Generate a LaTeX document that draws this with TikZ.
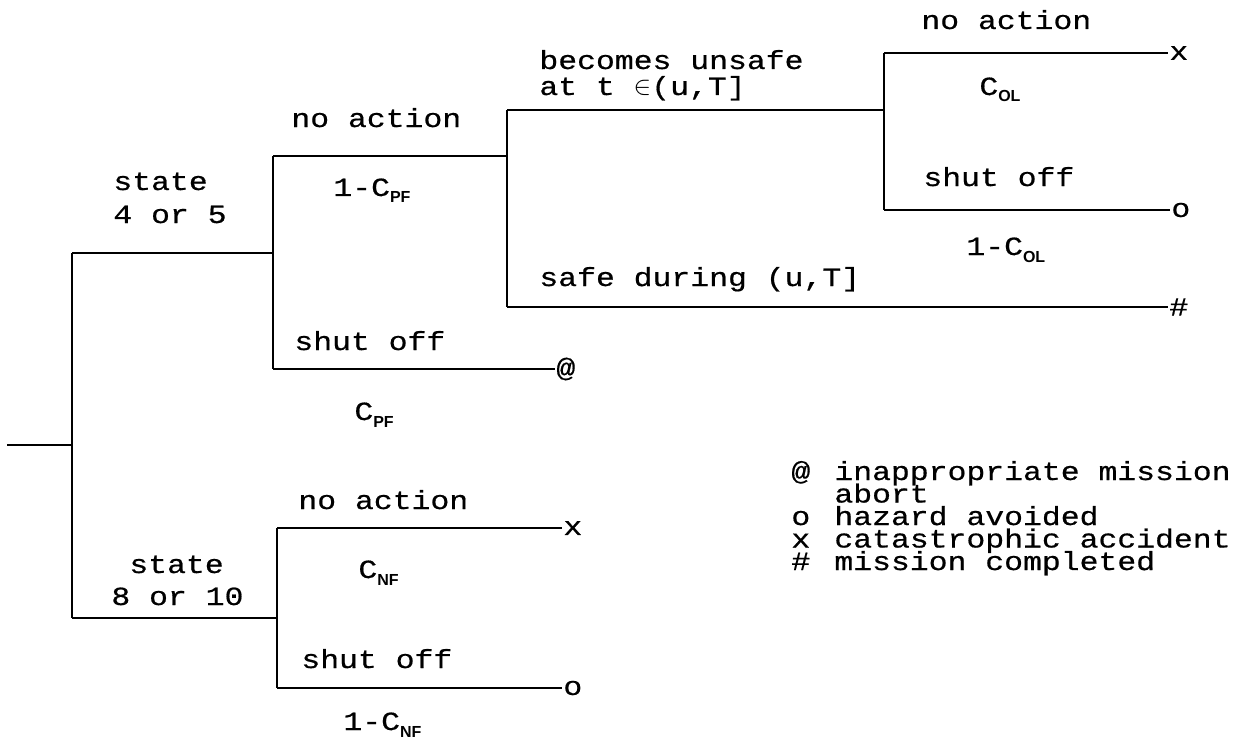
\documentclass[tikz,border=0pt]{standalone}
\usepackage{fontspec}
\setmainfont[FakeStretch=1.2,FakeBold=0.6]{Liberation Mono}
\setsansfont{Liberation Sans}
\newcommand\sbs[1]{\raisebox{-3.5pt}{\sffamily\bfseries\fontsize{8}{9}\selectfont #1}}
\begin{document}
\begin{tikzpicture}[x=0.5pt,y=-0.5pt,line width=1.4pt,
  lbl/.style={anchor=base west,inner sep=0pt,font=\fontsize{13.1}{14}\selectfont},
  endmk/.style={anchor=west,inner sep=0pt,font=\fontsize{13.1}{14}\selectfont}]
\useasboundingbox (0,0) rectangle (1248,738);
% junction coordinates
\coordinate (r0) at (7,445);
\coordinate (j0) at (72,445);
\coordinate (j0t) at (72,253);
\coordinate (j0b) at (72,618);
\coordinate (j1) at (273,253);
\coordinate (j1t) at (273,156);
\coordinate (j1b) at (273,369);
\coordinate (j2) at (507,156);
\coordinate (j2t) at (507,110);
\coordinate (j2b) at (507,307);
\coordinate (j3) at (884,110);
\coordinate (j3t) at (884,53);
\coordinate (j3b) at (884,210);
\coordinate (j4) at (277,618);
\coordinate (j4t) at (277,528);
\coordinate (j4b) at (277,688);
% end markers
\node[endmk] (e1) at (1168,53) {x};
\node[endmk] (e2) at (1170,210) {o};
\node[endmk] (e3) at (1168,307) {\#};
\node[endmk] (e4) at (555,369) {@};
\node[endmk] (e5) at (562,528) {x};
\node[endmk] (e6) at (562,688) {o};
% connectors
\draw (r0) -- (j0);
\draw (j0t) -- (j0b);
\draw (j0t) -- (j1);
\draw (j1t) -- (j1b);
\draw (j1t) -- (j2);
\draw (j2t) -- (j2b);
\draw (j2t) -- (j3);
\draw (j3t) -- (j3b);
\draw (j3t) -- (e1.west);
\draw (j3b) -- (e2.west);
\draw (j2b) -- (e3.west);
\draw (j1b) -- (e4.west);
\draw (j0b) -- (j4);
\draw (j4t) -- (j4b);
\draw (j4t) -- (e5.west);
\draw (j4b) -- (e6.west);
% labels
\node[lbl] (s45a) at (112,190) {state};
\node[lbl] (s45b) at (112,223) {4 or 5};
\node[lbl] (s810a) at (128,573) {state};
\node[lbl] (s810b) at (110,605) {8 or 10};
\node[lbl] (na1) at (290,127) {no action};
\node[lbl] (p1) at (332,196) {1-C\sbs{PF}};
\node[lbl] (so1) at (293,350) {shut off};
\node[lbl] (p2) at (353,420) {C\sbs{PF}};
\node[lbl] (bu1) at (538,69) {becomes unsafe};
\node[lbl] (bu2) at (538,95) {at t \scalebox{1.1}{$\in$}(u,T]};
\node[lbl] (sd) at (538,286) {safe during (u,T]};
\node[lbl] (na2) at (920,29) {no action};
\node[lbl] (p3) at (978,95) {C\sbs{OL}};
\node[lbl] (so2) at (922,186) {shut off};
\node[lbl] (p4) at (965,255) {1-C\sbs{OL}};
\node[lbl] (na3) at (297,509) {no action};
\node[lbl] (p5) at (357,578) {C\sbs{NF}};
\node[lbl] (so3) at (300,668) {shut off};
\node[lbl] (p6) at (342,730) {1-C\sbs{NF}};
% legend
\node[lbl] (k1) at (790,480) {@};
\node[lbl] (t1a) at (833,480) {inappropriate mission};
\node[lbl] (t1b) at (833,502.5) {abort};
\node[lbl] (k2) at (790,525) {o};
\node[lbl] (t2) at (833,525) {hazard avoided};
\node[lbl] (k3) at (790,547.5) {x};
\node[lbl] (t3) at (833,547.5) {catastrophic accident};
\node[lbl] (k4) at (790,570) {\#};
\node[lbl] (t4) at (833,570) {mission completed};
\end{tikzpicture}
\end{document}
